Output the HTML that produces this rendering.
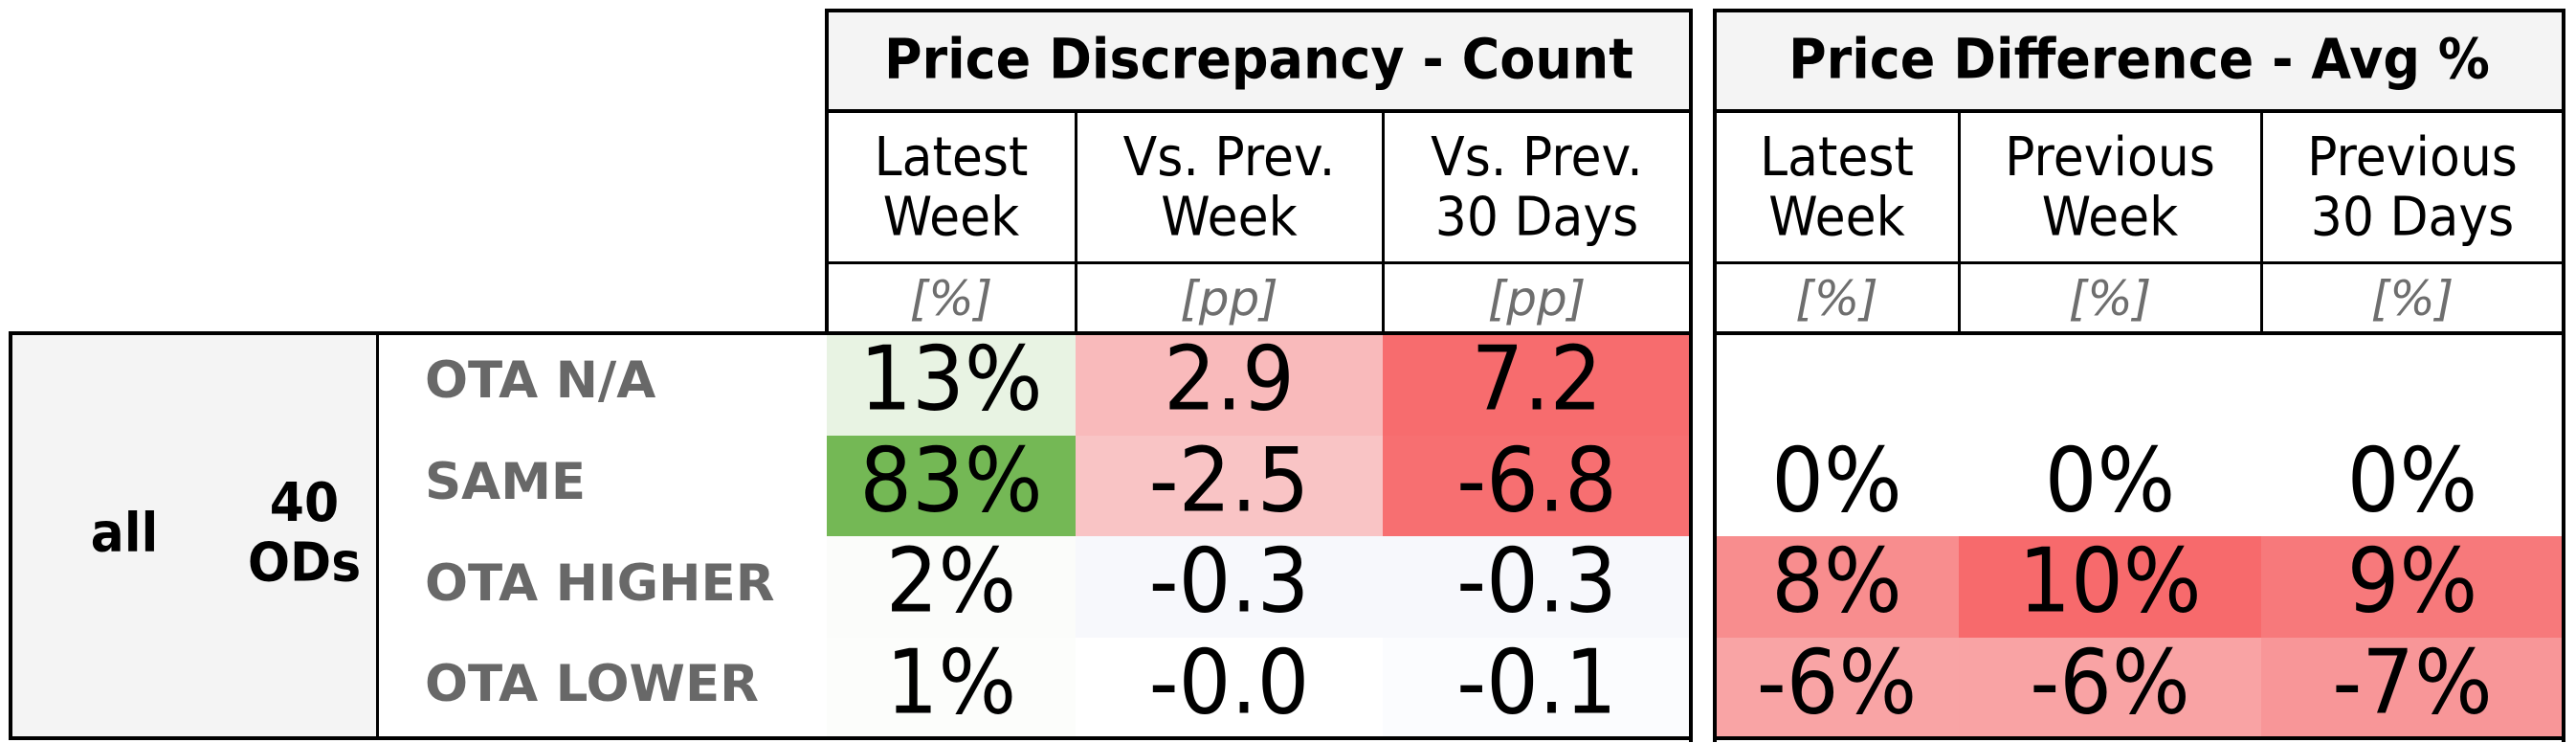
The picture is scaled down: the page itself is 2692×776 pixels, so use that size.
<!DOCTYPE html>
<html><head><meta charset="utf-8">
<style>
html,body{margin:0;padding:0;background:#fff;}
body{width:2692px;height:776px;position:relative;overflow:hidden;font-family:"DejaVu Sans","Liberation Sans",sans-serif;}
.a{position:absolute;box-sizing:border-box;}
.c{display:flex;align-items:center;justify-content:center;text-align:center;}
.ttl{font-weight:bold;font-size:54px;background:#f4f4f4;padding-bottom:4px;}
.hdr{font-size:52px;line-height:58px;}
.hdr span,.val span,.ttl span{display:inline-block;transform:scaleY(1.08);}
.unit{font-size:50px;font-style:italic;color:#6e6e6e;}
.val{font-size:86px;color:#000;padding-bottom:12px;}
.rl{font-size:53px;font-weight:bold;color:#686868;display:flex;align-items:center;padding-bottom:8px;}
.ln{position:absolute;background:#000;}
</style></head>
<body>
<div id="root"></div>
<script>
const rowLabels=["OTA N/A","SAME","OTA HIGHER","OTA LOWER"];
const countVals=[["13%","2.9","7.2"],["83%","-2.5","-6.8"],["2%","-0.3","-0.3"],["1%","-0.0","-0.1"]];
const countColors=[["#e8f3e3","#f9babb","#f76c6e"],["#74b855","#f9c4c5","#f76f71"],["#fbfcfa","#f7f8fc","#f7f8fc"],["#fcfdfb","#ffffff","#fbfcfe"]];
const diffVals=[["","",""],["0%","0%","0%"],["8%","10%","9%"],["-6%","-6%","-7%"]];
const diffColors=[["#ffffff","#ffffff","#ffffff"],["#ffffff","#ffffff","#ffffff"],["#f88d8e","#f76a6c","#f7797b"],["#f9a4a5","#f9a3a4","#f89698"]];
const countHeaders=["Latest<br>Week","Vs. Prev.<br>Week","Vs. Prev.<br>30 Days"];
const countUnits=["[%]","[pp]","[pp]"];
const diffHeaders=["Latest<br>Week","Previous<br>Week","Previous<br>30 Days"];
const diffUnits=["[%]","[%]","[%]"];

const root=document.getElementById('root');
function box(x,y,w,h,cls,html,name,bg){
  const d=document.createElement('div');
  d.className='a '+cls;
  d.style.left=x+'px';d.style.top=y+'px';d.style.width=w+'px';d.style.height=h+'px';
  if(bg)d.style.background=bg;
  d.innerHTML=html;
  
  
  root.appendChild(d);return d;
}
function line(x,y,w,h){
  const d=document.createElement('div');
  d.className='ln';
  d.style.left=x+'px';d.style.top=y+'px';d.style.width=w+'px';d.style.height=h+'px';
  
  
  root.appendChild(d);
}
const rowY=[348,455,560,666,771];
const cX=[864,1124,1445,1767];
const dX=[1792,2047,2363,2679];
box(11,348,384,423,'c','','row-group-block','#f4f4f4');
box(60,348,140,423,'c','<span style="font-size:52px;font-weight:bold;display:inline-block;transform:scaleY(1.08);margin-bottom:6px">all</span>','group-all-label');
box(243,348,150,423,'c','<span style="font-size:52px;font-weight:bold;line-height:58px;display:inline-block;transform:scaleY(1.08);margin-bottom:6px">40<br>ODs</span>','group-ods-label');
for(let r=0;r<4;r++){
  box(444,rowY[r],420,rowY[r+1]-rowY[r],'rl',rowLabels[r],'row-label');
}
box(cX[0],11,cX[3]-cX[0],105,'c ttl','<span>Price Discrepancy - Count</span>','count-title');
box(dX[0],11,dX[3]-dX[0],105,'c ttl','<span>Price Difference - Avg %</span>','diff-title');
for(let i=0;i<3;i++){
  box(cX[i],116,cX[i+1]-cX[i],159,'c hdr','<span>'+countHeaders[i]+'</span>','count-col-header');
  box(cX[i],275,cX[i+1]-cX[i],73,'c unit',countUnits[i],'count-col-unit');
  box(dX[i],116,dX[i+1]-dX[i],159,'c hdr','<span>'+diffHeaders[i]+'</span>','diff-col-header');
  box(dX[i],275,dX[i+1]-dX[i],73,'c unit',diffUnits[i],'diff-col-unit');
  for(let r=0;r<4;r++){
    box(cX[i],rowY[r],cX[i+1]-cX[i],rowY[r+1]-rowY[r],'c val','<span>'+countVals[r][i]+'</span>','count-cell',countColors[r][i]);
    box(dX[i],rowY[r],dX[i+1]-dX[i],rowY[r+1]-rowY[r],'c val','<span>'+diffVals[r][i]+'</span>','diff-cell',diffColors[r][i]);
  }
}
const T=4;
line(cX[0]-2,9,cX[3]-cX[0]+4,T);
line(cX[0]-2,114,cX[3]-cX[0]+4,T);
line(cX[0]-2,273,cX[3]-cX[0]+4,3);
line(cX[0]-2,9,T,340);
line(cX[1]-1,114,3,234);
line(cX[2]-1,114,3,234);
line(cX[3]-2,9,T,766);
line(dX[0]-2,9,dX[3]-dX[0]+4,T);
line(dX[0]-2,114,dX[3]-dX[0]+4,T);
line(dX[0]-2,273,dX[3]-dX[0]+4,3);
line(dX[0]-2,346,dX[3]-dX[0]+4,T);
line(dX[0]-2,9,T,766);
line(dX[1]-1,114,3,234);
line(dX[2]-1,114,3,234);
line(dX[3]-2,9,T,766);
line(dX[0]-2,769,dX[3]-dX[0]+4,T);
line(9,346,cX[3]-7,T);
line(9,769,cX[3]-7,T);
line(9,346,T,427);
line(393,346,3,427);
</script>
</body></html>
